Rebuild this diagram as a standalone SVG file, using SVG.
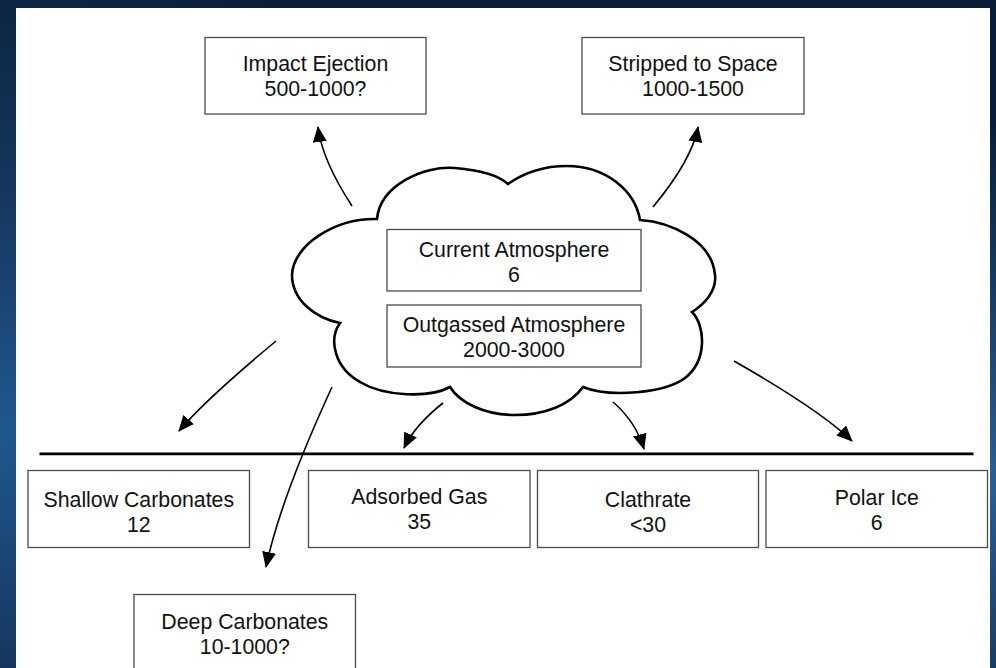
<svg xmlns="http://www.w3.org/2000/svg" width="996" height="668" viewBox="0 0 996 668">
  <defs>
    <radialGradient id="bgGlow" cx="0" cy="430" r="520" gradientUnits="userSpaceOnUse">
      <stop offset="0" stop-color="#21578f"/>
      <stop offset="0.45" stop-color="#15375f"/>
      <stop offset="1" stop-color="#0b1d36"/>
    </radialGradient>
    <radialGradient id="bgGlowR" cx="996" cy="480" r="360" gradientUnits="userSpaceOnUse">
      <stop offset="0" stop-color="#2a5e95"/>
      <stop offset="1" stop-color="#2a5e95" stop-opacity="0"/>
    </radialGradient>
    <marker id="arrow" markerUnits="userSpaceOnUse" markerWidth="16" markerHeight="16" viewBox="0 0 16 15" refX="15" refY="7.5" orient="auto">
      <path d="M0,0.5 L16,7.5 L0,14.5 z" fill="#000"/>
    </marker>
    <style>
      .box { fill: #fff; stroke: #4a4a4a; stroke-width: 1.3; }
      .lbl { font-family: "Liberation Sans", Arial, sans-serif; font-size: 21.3px; fill: #111; text-anchor: middle; }
      .conn { fill: none; stroke: #000; stroke-width: 1.6; marker-end: url(#arrow); }
    </style>
  </defs>

  <rect x="0" y="0" width="996" height="668" fill="url(#bgGlow)"/>
  <rect x="0" y="0" width="996" height="668" fill="url(#bgGlowR)"/>
  <rect x="16" y="8" width="974" height="670" fill="#fff"/>

  <g id="cloud">
    <path d="M377,219 C380,185 425,165 455,168 C480,170 498,175 508,184 C525,172 545,166 567,166 C605,166 635,190 640,220 C670,222 712,240 715,275 C717,292 703,305 692,312 C705,325 708,360 685,378 C665,393 610,398 583,387 C570,405 545,415 515,415 C485,415 460,403 450,387 C430,398 385,397 360,382 C335,368 328,340 340,323 C315,318 292,300 292,275 C293,245 335,218 377,219 Z" fill="#fff" stroke="#000" stroke-width="2.6" stroke-linejoin="miter"/>
  </g>

  <g id="current-atmosphere">
    <rect class="box" x="387" y="229.5" width="254" height="61.5"/>
    <text class="lbl" x="514" y="256.5">Current Atmosphere</text>
    <text class="lbl" x="514" y="281.5">6</text>
  </g>

  <g id="outgassed-atmosphere">
    <rect class="box" x="387" y="305" width="254" height="62"/>
    <text class="lbl" x="514" y="332">Outgassed Atmosphere</text>
    <text class="lbl" x="514" y="357">2000-3000</text>
  </g>

  <g id="impact-ejection">
    <rect class="box" x="205" y="37.5" width="221" height="76.5"/>
    <text class="lbl" x="315.5" y="70.5">Impact Ejection</text>
    <text class="lbl" x="315.5" y="95.5">500-1000?</text>
  </g>

  <g id="stripped-to-space">
    <rect class="box" x="582" y="37.5" width="222" height="76.5"/>
    <text class="lbl" x="693" y="70.5">Stripped to Space</text>
    <text class="lbl" x="693" y="95.5">1000-1500</text>
  </g>

  <g id="surface-line">
    <line x1="39.5" y1="453.8" x2="973.5" y2="453.8" stroke="#000" stroke-width="2.8"/>
  </g>

  <g id="shallow-carbonates">
    <rect class="box" x="28" y="470.5" width="221.5" height="77"/>
    <text class="lbl" x="138.8" y="506.5">Shallow Carbonates</text>
    <text class="lbl" x="138.8" y="531.5">12</text>
  </g>

  <g id="adsorbed-gas">
    <rect class="box" x="308.5" y="470.5" width="221.5" height="77"/>
    <text class="lbl" x="419.3" y="503.5">Adsorbed Gas</text>
    <text class="lbl" x="419.3" y="528.5">35</text>
  </g>

  <g id="clathrate">
    <rect class="box" x="537.5" y="470.5" width="221" height="77"/>
    <text class="lbl" x="648" y="506.5">Clathrate</text>
    <text class="lbl" x="648" y="531.5">&lt;30</text>
  </g>

  <g id="polar-ice">
    <rect class="box" x="766" y="470.5" width="221.5" height="77"/>
    <text class="lbl" x="876.8" y="505">Polar Ice</text>
    <text class="lbl" x="876.8" y="530">6</text>
  </g>

  <g id="deep-carbonates">
    <rect class="box" x="134" y="594.5" width="221.5" height="90"/>
    <text class="lbl" x="244.8" y="628.5">Deep Carbonates</text>
    <text class="lbl" x="244.8" y="653.5">10-1000?</text>
  </g>

  <g id="connectors">
    <path class="conn" d="M352,206 Q322,160 318,127"/>
    <path class="conn" d="M653,207 Q692,160 698,127"/>
    <path class="conn" d="M276,341 Q205,400 179,431"/>
    <path class="conn" d="M332,387 Q280,500 266,567"/>
    <path class="conn" d="M443,403 Q415,425 404,448"/>
    <path class="conn" d="M613,402 Q636,422 644,449"/>
    <path class="conn" d="M734,361 Q820,410 852,441"/>
  </g>
</svg>
